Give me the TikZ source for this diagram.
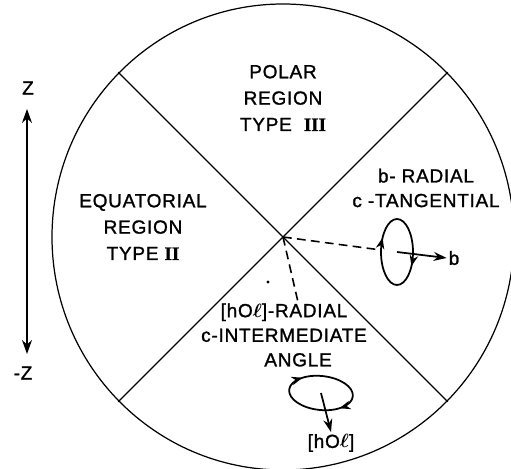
\documentclass[tikz,border=0pt]{standalone}
\usepackage{bm}
\usepackage{fontspec}
\setmainfont{Liberation Sans}[UprightFeatures={FakeBold=1.3}, LetterSpace=4]
\newfontfamily\romfont[FakeBold=1]{Liberation Serif}
\usetikzlibrary{arrows.meta,decorations.markings,calc}

\begin{document}
\begin{tikzpicture}[
  x=0.02cm, y=-0.02cm,
  font=\fontsize{10.8}{12}\selectfont,
  lbl/.style={align=center, inner sep=1pt},
  rule/.style={line width=0.7pt, black},
  dashln/.style={rule, line width=0.9pt, dash pattern=on 5pt off 3pt},
  arr/.style={-{Stealth[length=2.6mm, width=1.8mm]}, line width=1pt},
  spin/.style 2 args={line width=1pt, postaction={decorate},
    decoration={markings,
      mark=at position #1 with {\arrow{Stealth[length=2.2mm, width=1.7mm]}},
      mark=at position #2 with {\arrow{Stealth[length=2.2mm, width=1.7mm]}}}}
]
  \useasboundingbox (0,0) rectangle (511,469);

  % sphere and the four sectors
  \coordinate (o) at (283,237);
  \draw[rule] (o) ellipse [x radius=231, y radius=233];
  \coordinate (ne) at ($(o)+(-45:233)$);
  \coordinate (nw) at ($(o)+(225:233)$);
  \coordinate (se) at ($(o)+(45:233)$);
  \coordinate (sw) at ($(o)+(135:233)$);
  \draw[rule] (nw) -- (se);
  \draw[rule] (sw) -- (ne);

  \node[lbl] (polar) at (283,98) {POLAR\\[3pt]REGION\\[3pt]TYPE \ {\romfont\bfseries III}};
  \node[lbl] (equat) at (143,227) {EQUATORIAL\\[3pt]REGION\\[3pt]TYPE {\romfont\bfseries II}};
  \node[lbl] (radb) at (426,188) {b- RADIAL\\[2pt]c -TANGENTIAL};
  \node[lbl] (radh) at (284,335) {[hO$\bm\ell$]-RADIAL\\[2pt]c-INTERMEDIATE\\[2pt]\hspace*{16pt}ANGLE};

  % loop with b radial
  \coordinate (loopb) at (397,252);
  \draw[spin={0.09}{0.59}] (loopb) ellipse [x radius=16, y radius=33];
  \node[inner sep=1pt] (b) at (454,258) {b};
  \draw[arr] (loopb) -- (b.west);
  \draw[dashln] (o) -- (381,250) coordinate (eb);

  % loop with [h0l] radial
  \coordinate (looph) at (321,393);
  \draw[spin={0.12}{0.62}, rotate around={-6:(looph)}] (looph) ellipse [x radius=32, y radius=17];
  \node[inner sep=1pt] (h) at (331,443) {[hO$\bm\ell$]};
  \draw[arr] (looph) -- (h.north);
  \draw[dashln] (o) -- (298,302) coordinate (eh);
  \fill (268,282) circle [radius=0.9pt];

  % z axis
  \node[inner sep=1pt] (zp) at (28,88) {Z};
  \node[inner sep=1pt] (zm) at (23,373) {-Z};
  \draw[{Stealth[length=2.8mm, width=2mm]}-{Stealth[length=2.8mm, width=2mm]}, line width=0.8pt]
    (27,109) coordinate (ztop) -- (27,354) coordinate (zend);
\end{tikzpicture}
\end{document}
